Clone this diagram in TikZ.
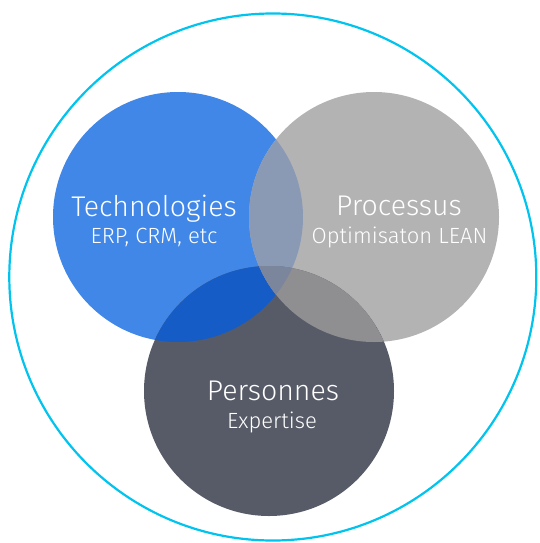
\documentclass[tikz,border=0pt]{standalone}
\usepackage{fontspec}
\setmainfont{Fira Sans Light}
\definecolor{ringcol}{HTML}{00C3EE}
\definecolor{techcol}{HTML}{4087E8}
\definecolor{proccol}{HTML}{B4B3B4}
\definecolor{perscol}{HTML}{575B67}
\definecolor{tpcol}{HTML}{8A9AB4}
\definecolor{tdcol}{HTML}{155CC6}
\definecolor{pdcol}{HTML}{8F8F91}
\definecolor{allcol}{HTML}{7B859B}
\tikzset{
  venn/.style={circle, minimum size=250pt, inner sep=0pt, draw=none},
  ttl/.style={anchor=base, text=white, font=\fontsize{28.5}{28.5}\selectfont, inner sep=0pt},
  sub/.style={anchor=base, text=white, font=\fontsize{22}{22}\selectfont, inner sep=0pt}
}
\begin{document}
\begin{tikzpicture}[x=1pt,y=-1pt]
\useasboundingbox (0,0) rectangle (540,543);
\node[circle, draw=ringcol, line width=2.2pt, minimum size=527pt, inner sep=0pt] (outer) at (272.8,277) {};
\node[venn, fill=techcol] (tech) at (178,217) {};
\node[venn, fill=proccol] (proc) at (374,217) {};
\node[venn, fill=perscol] (pers) at (269,391) {};
\begin{scope}
  \clip (178,217) circle (125pt);
  \fill[tpcol] (374,217) circle (125pt);
  \fill[tdcol] (269,391) circle (125pt);
  \clip (374,217) circle (125pt);
  \fill[allcol] (269,391) circle (125pt);
\end{scope}
\begin{scope}
  \clip (374,217) circle (125pt);
  \clip (269,391) circle (125pt);
  \fill[pdcol] (269,391) circle (125pt);
  \clip (178,217) circle (125pt);
  \fill[allcol] (269,391) circle (125pt);
\end{scope}
\node[ttl] (techtitle) at (154,216) {Technologies};
\node[sub] (techsub) at (154,243) {ERP, CRM, etc};
\node[ttl] (proctitle) at (399,215) {Processus};
\node[sub] (procsub) at (399.5,243) {Optimisaton LEAN};
\node[ttl] (perstitle) at (273,400.5) {Personnes};
\node[sub] (perssub) at (272,428) {Expertise};
\end{tikzpicture}
\end{document}
